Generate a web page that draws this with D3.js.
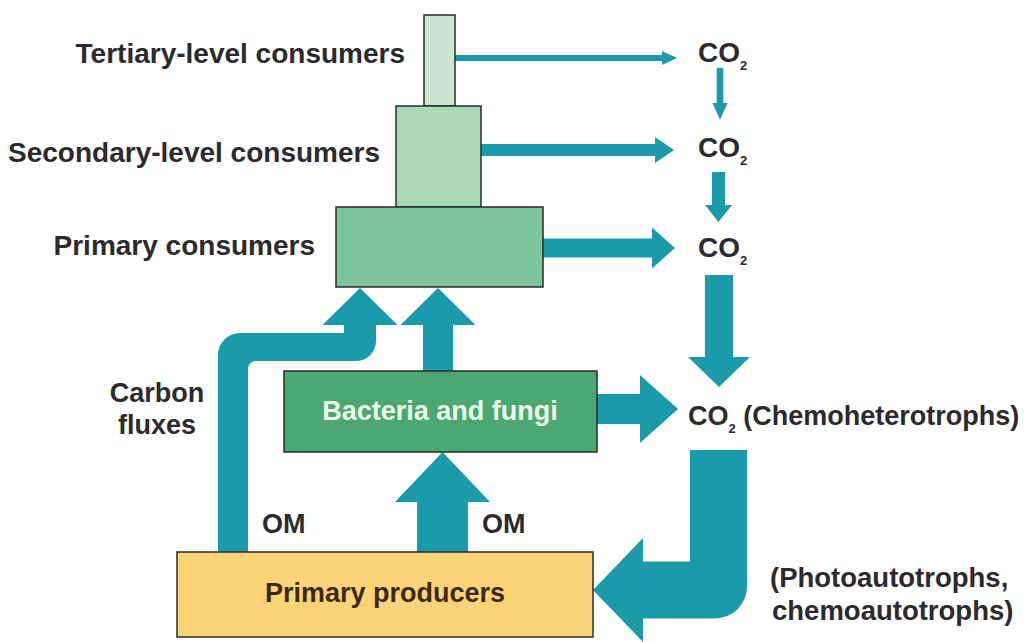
<!DOCTYPE html>
<html lang="en">
<head>
<meta charset="UTF-8">
<title>Carbon fluxes</title>
<script src="https://cdn.jsdelivr.net/npm/d3@7"></script>
<style>
  body { margin: 0; background: #fff; }
  text { font-family: "Liberation Sans", Arial, sans-serif; font-weight: bold; fill: #2c2a2d; }
</style>
</head>
<body>
<script>
// trophic levels, top to bottom
var levels = ["Tertiary-level consumers", "Secondary-level consumers", "Primary consumers"];
var levelFill = ["#c9e6d0", "#a8d8b5", "#7ec49c"];
// relative carbon flux of each arrow (shaft thickness)
var respFlux = [1, 2, 3.2, 5];        // tertiary, secondary, primary, bacteria -> CO2
var co2DownFlux = [1.1, 2.2, 4.7];     // CO2 -> CO2 -> CO2 -> chemo
var fixFlux = 9.5;                     // CO2 -> primary producers
var omFlux = [5, 5, 8.5];              // producers -> consumers, bacteria -> consumers, producers -> bacteria
var co2Label = "CO";
var sideLabels = ["(Chemoheterotrophs)", "(Photoautotrophs,", "chemoautotrophs)"];

var w = 1033, h = 642;
var teal = "#1b9aaa";
var flux = d3.scaleLinear().domain([0, 1]).range([0, 6]);

var svg = d3.select("body").append("svg").attr("width", w).attr("height", h);

// generic straight arrow: shaft from (x0,y0) to tip (x1,y1)
function arrow(x0, y0, x1, y1, sw, hw, hl) {
    var dx = x1 - x0, dy = y1 - y0, L = Math.sqrt(dx * dx + dy * dy);
    var ux = dx / L, uy = dy / L, px = -uy, py = ux;
    var bx = x1 - ux * hl, by = y1 - uy * hl;
    var p = d3.path();
    p.moveTo(x0 + px * sw / 2, y0 + py * sw / 2);
    p.lineTo(bx + px * sw / 2, by + py * sw / 2);
    p.lineTo(bx + px * hw / 2, by + py * hw / 2);
    p.lineTo(x1, y1);
    p.lineTo(bx - px * hw / 2, by - py * hw / 2);
    p.lineTo(bx - px * sw / 2, by - py * sw / 2);
    p.lineTo(x0 - px * sw / 2, y0 - py * sw / 2);
    p.closePath();
    return p.toString();
}

// boxes
var boxes = [
    {x: 424, y: 15, w: 31, h: 91, fill: levelFill[0]},
    {x: 396, y: 106, w: 85, h: 101, fill: levelFill[1]},
    {x: 336, y: 207, w: 207, h: 80, fill: levelFill[2]},
    {x: 284, y: 371, w: 313, h: 81, fill: "#4ca873"},
    {x: 177, y: 552, w: 416, h: 85, fill: "#fcd477"}
];

// arrows layer
var ga = svg.append("g").attr("fill", teal);

// respiration arrows to CO2
var respY = [58, 150, 248, 409];
var respTip = [677, 674, 675, 678];
var respStart = [455, 481, 543, 597];
var respHead = [[14, 15], [26, 19], [41, 23], [68, 38]];
respFlux.forEach(function (f, i) {
    ga.append("path").attr("d", arrow(respStart[i], respY[i], respTip[i], respY[i],
        flux(f), respHead[i][0], respHead[i][1]));
});

// CO2 downward arrows
var downX = [720, 718.5, 719];
var downY = [[68, 120], [172, 222], [275, 387]];
var downHead = [[15, 17], [27, 17], [62, 30]];
co2DownFlux.forEach(function (f, i) {
    ga.append("path").attr("d", arrow(downX[i], downY[i][0], downX[i], downY[i][1],
        flux(f), downHead[i][0], downHead[i][1]));
});

// straight OM arrows upward
ga.append("path").attr("d", arrow(438, 372, 438, 288, flux(omFlux[1]), 75, 37));
ga.append("path").attr("d", arrow(442.5, 553, 442.5, 452, flux(omFlux[2]), 95, 50));

// bent OM arrow: producers -> primary consumers
(function () {
    var sw = flux(omFlux[0]);
    var xl = 218, xr = xl + sw, top = 333, bot = 361;
    var tipX = 360, tipY = 288, hb = 325, hw = 75;
    var sl = tipX - 16, sr = tipX + 16;
    var p = d3.path();
    p.moveTo(xl, 552);
    p.lineTo(xl, top + 22);
    p.arcTo(xl, top, xl + 22, top, 22);
    p.lineTo(sl, top);
    p.lineTo(sl, hb);
    p.lineTo(tipX - hw / 2, hb);
    p.lineTo(tipX, tipY);
    p.lineTo(tipX + hw / 2, hb);
    p.lineTo(sr, hb);
    p.lineTo(sr, bot - 20);
    p.arcTo(sr, bot, sr - 20, bot, 20);
    p.lineTo(xr + 8, bot);
    p.arcTo(xr, bot, xr, bot + 8, 8);
    p.lineTo(xr, 552);
    p.closePath();
    ga.append("path").attr("d", p.toString());
})();

// bent arrow: CO2 -> primary producers
(function () {
    var sw = flux(fixFlux);
    var xl = 690, xr = xl + sw, yTop = 450, cy = 590;
    var t = cy - sw / 2, b = cy + sw / 2;
    var hx = 643, tipX = 593, hh = 52;
    var p = d3.path();
    p.moveTo(xl, yTop);
    p.lineTo(xr, yTop);
    p.lineTo(xr, b - 32);
    p.arcTo(xr, b, xr - 32, b, 32);
    p.lineTo(hx, b);
    p.lineTo(hx, cy + hh);
    p.lineTo(tipX, cy);
    p.lineTo(hx, cy - hh);
    p.lineTo(hx, t);
    p.lineTo(xl, t);
    p.closePath();
    ga.append("path").attr("d", p.toString());
})();

// boxes on top
svg.append("g").selectAll("rect").data(boxes).join("rect")
    .attr("x", function (d) { return d.x; })
    .attr("y", function (d) { return d.y; })
    .attr("width", function (d) { return d.w; })
    .attr("height", function (d) { return d.h; })
    .attr("fill", function (d) { return d.fill; })
    .attr("stroke", "#2a2a2a")
    .attr("stroke-width", 1.5);

// level labels
var labelEnd = [405, 380, 315];
var labelY = [63, 162, 255];
svg.append("g").selectAll("text").data(levels).join("text")
    .attr("x", function (d, i) { return labelEnd[i]; })
    .attr("y", function (d, i) { return labelY[i]; })
    .attr("text-anchor", "end")
    .attr("font-size", 28)
    .text(function (d) { return d; });

svg.append("text").attr("x", 440).attr("y", 420).attr("text-anchor", "middle")
    .attr("font-size", 27).style("fill", "#eef8ea").text("Bacteria and fungi");
svg.append("text").attr("x", 385).attr("y", 602).attr("text-anchor", "middle")
    .attr("font-size", 27).style("fill", "#3a2a1c").text("Primary producers");

svg.append("text").attr("x", 157).attr("y", 402).attr("text-anchor", "middle")
    .attr("font-size", 27).text("Carbon");
svg.append("text").attr("x", 157).attr("y", 434).attr("text-anchor", "middle")
    .attr("font-size", 27).text("fluxes");

[262, 482].forEach(function (x) {
    svg.append("text").attr("x", x).attr("y", 533).attr("font-size", 27).text("OM");
});

// CO2 labels
var co2Y = [62, 157, 257];
co2Y.forEach(function (y) {
    var t = svg.append("text").attr("x", 698).attr("y", y).attr("font-size", 28).text(co2Label);
    t.append("tspan").attr("font-size", 13).attr("dy", 8).text("2");
});
var ct = svg.append("text").attr("x", 688).attr("y", 425).attr("font-size", 27).text(co2Label);
ct.append("tspan").attr("font-size", 13).attr("dy", 8).text("2");
ct.append("tspan").attr("dy", -8).text(" " + sideLabels[0]);

svg.append("text").attr("x", 770).attr("y", 587).attr("font-size", 27.5).text(sideLabels[1]);
svg.append("text").attr("x", 772).attr("y", 620).attr("font-size", 27.5).text(sideLabels[2]);
</script>
</body>
</html>
